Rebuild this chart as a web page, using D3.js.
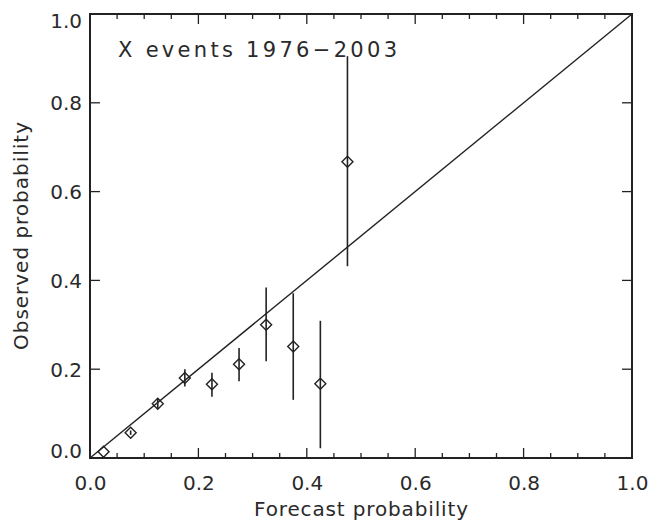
<!DOCTYPE html>
<html><head><meta charset="utf-8">
<script src="https://cdn.jsdelivr.net/npm/d3@7"></script>
<style>body{margin:0;background:#fff}svg{display:block}text{font-family:"DejaVu Sans","Liberation Sans",sans-serif;fill:#2a2a2a}</style>
</head><body><svg id="c" width="665" height="520"></svg>
<script>
const forecast = [0.025,0.075,0.125,0.175,0.225,0.275,0.325,0.375,0.425,0.475];
const observed = [0.014,0.057,0.122,0.180,0.166,0.211,0.300,0.251,0.167,0.667];
const errLow   = [0.014,0.052,0.112,0.161,0.138,0.173,0.218,0.131,0.022,0.432];
const errHigh  = [0.014,0.062,0.135,0.200,0.192,0.248,0.384,0.371,0.309,0.905];
const tickVals = [0,0.2,0.4,0.6,0.8,1.0];
const title = "X events 1976\u22122003";
const xLabel = "Forecast probability";
const yLabel = "Observed probability";

const svg = d3.select("#c");
const L=90,R=632,T=14,B=458;
const x = d3.scaleLinear().domain([0,1]).range([L,R]);
const y = d3.scaleLinear().domain([0,1]).range([B,T]);
const fmt = d3.format(".1f");
const ink = "#222";

// bottom tick labels
const xb = d3.axisBottom(x).tickValues(tickVals).tickFormat(fmt).tickSize(0);
const ax = svg.append("g").attr("transform",`translate(0,${B})`).call(xb);
ax.select(".domain").remove();
ax.selectAll("text").attr("font-size",20).attr("y",32).attr("dy",0).attr("fill","#2a2a2a");
// left tick labels
const yl = d3.axisLeft(y).tickValues(tickVals).tickFormat(fmt).tickSize(0);
const ay = svg.append("g").attr("transform",`translate(${L},0)`).call(yl);
ay.select(".domain").remove();
ay.selectAll(".tick").attr("transform",null);
ay.selectAll("text").attr("font-size",20).attr("x",-8).attr("dy",0).attr("fill","#2a2a2a")
  .attr("y",d=>Math.max(T+14,Math.min(B,y(d)+7.5)));

// ticks (minor every 0.05 on x, major every 0.2)
const minorX = d3.range(0,1.0001,0.05);
const g = svg.append("g");
minorX.forEach(v=>{
  const major = Math.abs(v*5-Math.round(v*5))<1e-6;
  const len = major?10:5;
  g.append("line").attr("x1",x(v)).attr("x2",x(v)).attr("y1",B).attr("y2",B-len).attr("stroke",ink).attr("stroke-width",1.3);
  g.append("line").attr("x1",x(v)).attr("x2",x(v)).attr("y1",T).attr("y2",T+len).attr("stroke",ink).attr("stroke-width",1.3);
});
tickVals.forEach(v=>{
  g.append("line").attr("x1",L).attr("x2",L+10).attr("y1",y(v)).attr("y2",y(v)).attr("stroke",ink).attr("stroke-width",1.3);
  g.append("line").attr("x1",R).attr("x2",R-10).attr("y1",y(v)).attr("y2",y(v)).attr("stroke",ink).attr("stroke-width",1.3);
});
// frame
svg.append("rect").attr("x",L).attr("y",T).attr("width",R-L).attr("height",B-T).attr("fill","none").attr("stroke",ink).attr("stroke-width",2);

// diagonal
svg.append("line").attr("x1",x(0)).attr("y1",y(0)).attr("x2",x(1)).attr("y2",y(1)).attr("stroke",ink).attr("stroke-width",1.4);

// error bars
svg.append("g").selectAll("line").data(forecast).join("line")
  .attr("x1",d=>x(d)).attr("x2",d=>x(d))
  .attr("y1",(d,i)=>y(errLow[i])).attr("y2",(d,i)=>y(errHigh[i]))
  .attr("stroke",ink).attr("stroke-width",1.6);

// diamonds
const s=5.5;
svg.append("g").selectAll("path").data(forecast).join("path")
  .attr("d",(d,i)=>{const cx=x(d),cy=y(observed[i]);return `M${cx},${cy-s}L${cx+s},${cy}L${cx},${cy+s}L${cx-s},${cy}Z`;})
  .attr("fill","none").attr("stroke",ink).attr("stroke-width",1.4);

// title
svg.append("text").attr("x",118).attr("y",57).attr("font-size",21)
  .attr("textLength",279).attr("lengthAdjust","spacing").text(title);
// axis labels
svg.append("text").attr("x",254).attr("y",516).attr("font-size",20)
  .attr("textLength",214).attr("lengthAdjust","spacing").text(xLabel);
svg.append("text").attr("transform",`translate(28,350) rotate(-90)`).attr("font-size",20)
  .attr("textLength",228).attr("lengthAdjust","spacing").text(yLabel);
</script></body></html>
